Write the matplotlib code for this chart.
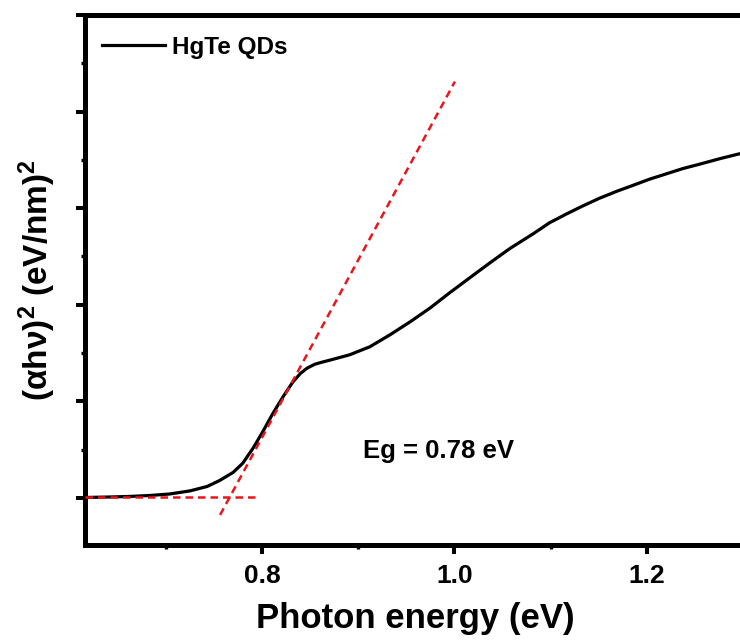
import matplotlib
matplotlib.use("Agg")
import matplotlib.pyplot as plt
from matplotlib.ticker import MultipleLocator

plt.rcParams['font.family'] = ['Liberation Sans', 'DejaVu Sans']
plt.rcParams['font.weight'] = 'bold'
plt.rcParams['mathtext.fontset'] = 'custom'
plt.rcParams['mathtext.rm'] = 'Liberation Sans:bold'
plt.rcParams['mathtext.it'] = 'Liberation Sans:bold'
plt.rcParams['mathtext.bf'] = 'Liberation Sans:bold'
plt.rcParams['mathtext.default'] = 'rm'

# absorption curve, (alpha h nu)^2 in arbitrary units
energy = [0.616, 0.642, 0.663, 0.684, 0.704, 0.725, 0.743, 0.756, 0.770, 0.780,
          0.791, 0.801, 0.811, 0.822, 0.832, 0.840, 0.847, 0.855, 0.862, 0.871,
          0.891, 0.912, 0.933, 0.954, 0.975, 0.995, 1.016, 1.037, 1.058, 1.082,
          1.099, 1.117, 1.134, 1.151, 1.169, 1.186, 1.203, 1.221, 1.237, 1.255,
          1.276, 1.297, 1.302]
absorb = [0.005, 0.010, 0.016, 0.026, 0.041, 0.073, 0.119, 0.181, 0.265, 0.360,
          0.520, 0.690, 0.870, 1.050, 1.200, 1.290, 1.345, 1.385, 1.405, 1.428,
          1.482, 1.565, 1.689, 1.824, 1.969, 2.124, 2.280, 2.435, 2.585, 2.736,
          2.850, 2.943, 3.026, 3.104, 3.176, 3.238, 3.301, 3.358, 3.409, 3.456,
          3.513, 3.565, 3.575]

# tangent lines used to get Eg
fit_x = [0.7564, 1.0005]
fit_y = [-0.176, 4.311]
base_x = [0.616, 0.794]
base_y = [0.012, 0.012]

fig = plt.figure(figsize=(7.4, 6.42), dpi=100)
ax = fig.add_axes([85/740, 97/642, 660/740, 530/642])

red = '#e8151b'
ax.plot(energy, absorb, color='black', lw=2.3, label='HgTe QDs', zorder=3)
ax.plot(fit_x, fit_y, color=red, lw=1.8, ls=(0, (3, 2)), zorder=4)
ax.plot(base_x, base_y, color=red, lw=1.8, ls=(0, (3, 2)), zorder=4)

ax.set_xlim(0.616, 1.302)
ax.set_ylim(-0.487, 5.0)

ax.xaxis.set_major_locator(MultipleLocator(0.2))
ax.xaxis.set_minor_locator(MultipleLocator(0.1))
ax.yaxis.set_major_locator(MultipleLocator(1))
ax.yaxis.set_minor_locator(MultipleLocator(0.5))
ax.set_yticklabels([])

for s in ax.spines.values():
    s.set_linewidth(3.6)
ax.tick_params(which='major', direction='out', length=6.5, width=2.9,
               labelsize=19, pad=7)
ax.tick_params(which='minor', direction='out', length=3.2, width=2.4)

ax.set_xlabel('Photon energy (eV)', fontsize=25, fontweight='bold', labelpad=10)
ax.set_ylabel('(αhν)$^2$ (eV/nm)$^2$', fontsize=24, fontweight='bold', labelpad=6)

ax.text(0.9049, 0.415, 'Eg = 0.78 eV', fontsize=18.5, fontweight='bold',
        ha='left', va='baseline')

ax.legend(loc='upper left', bbox_to_anchor=(0.025, 0.961), frameon=False,
          borderpad=0, borderaxespad=0, handlelength=2.6, handletextpad=0.29,
          prop={'size': 17.5, 'weight': 'bold'})

fig.savefig('out.png', dpi=100)
